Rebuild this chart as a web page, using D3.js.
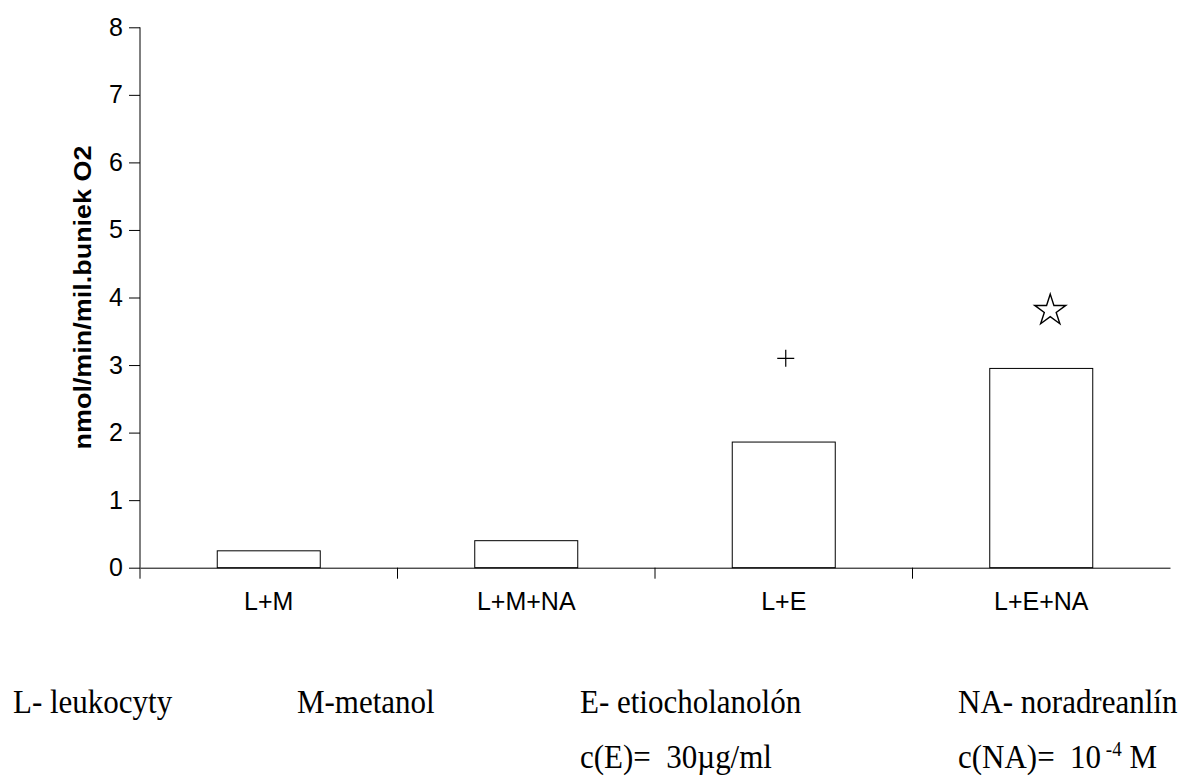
<!DOCTYPE html>
<html>
<head>
<meta charset="utf-8">
<script src="https://cdn.jsdelivr.net/npm/d3@7"></script>
<style>
  body { margin: 0; background: #fff; }
  svg { display: block; }
</style>
</head>
<body>
<svg width="1187" height="776"></svg>
<script>
// values
var categories = ["L+M", "L+M+NA", "L+E", "L+E+NA"];
var values = [0.25, 0.40, 1.86, 2.95];
var yTicks = [0, 1, 2, 3, 4, 5, 6, 7, 8];
var yTitle = "nmol/min/mil.buniek O2";
// significance markers: symbol and the level (in y units) where it sits
var markers = ["", "", "plus", "star"];
var markerLevels = [null, null, 3.1, 3.83];
var notes = ["L- leukocyty", "M-metanol", "E- etiocholanolón", "NA- noradreanlín"];
var concText = ["", "", "c(E)=  30µg/ml", "c(NA)=  10"];
var concSup = ["", "", "", "-4"];
var concTail = ["", "", "", " M"];

var plotLeft = 140, plotRight = 1170, plotTop = 27.3, plotBottom = 567.7;

var svg = d3.select("svg");

var x = d3.scaleBand()
  .domain(categories)
  .range([plotLeft, plotRight])
  .padding(0);

var y = d3.scaleLinear()
  .domain([0, 8])
  .range([plotBottom, plotTop]);

var bw = x.bandwidth();

// bars
svg.append("g")
  .selectAll("rect")
  .data(categories)
  .join("rect")
  .attr("x", (d) => x(d) + bw * 0.3)
  .attr("y", (d, i) => y(values[i]))
  .attr("width", bw * 0.4)
  .attr("height", (d, i) => y(0) - y(values[i]))
  .attr("fill", "#fff")
  .attr("stroke", "#000")
  .attr("stroke-width", 1);

// y axis
var yAxis = d3.axisLeft(y)
  .tickValues(yTicks)
  .tickSize(11)
  .tickPadding(6)
  .tickFormat(d3.format("d"));

var gy = svg.append("g")
  .attr("transform", `translate(${plotLeft}, 0)`)
  .call(yAxis);
gy.select(".domain").attr("d", `M0,${plotTop}V${plotBottom + 11}`).attr("stroke", "#000");
gy.selectAll(".tick line").attr("stroke", "#000");
gy.selectAll(".tick text")
  .attr("font-family", "'Liberation Sans', Arial, sans-serif")
  .attr("font-size", 25)
  .attr("fill", "#000");

// x axis: labels in band centres, tick marks on band edges
var xAxis = d3.axisBottom(x).tickSize(0).tickPadding(0);
var gx = svg.append("g")
  .attr("transform", `translate(0, ${plotBottom})`)
  .call(xAxis);
gx.select(".domain").attr("stroke", "#000");
gx.selectAll(".tick text")
  .attr("dy", null)
  .attr("y", 42.5)
  .attr("font-family", "'Liberation Sans', Arial, sans-serif")
  .attr("font-size", 25)
  .attr("fill", "#000");

svg.append("g")
  .selectAll("line")
  .data(categories.slice(1))
  .join("line")
  .attr("x1", (d) => x(d))
  .attr("x2", (d) => x(d))
  .attr("y1", y(0))
  .attr("y2", y(0) + 11)
  .attr("stroke", "#000");

// y axis title
svg.append("text")
  .attr("transform", `translate(91, ${(plotTop + plotBottom) / 2}) rotate(-90)`)
  .attr("text-anchor", "middle")
  .attr("font-family", "'Liberation Sans', Arial, sans-serif")
  .attr("font-weight", "bold")
  .attr("font-size", 24)
  .attr("textLength", 304)
  .attr("lengthAdjust", "spacingAndGlyphs")
  .text(yTitle);

// markers
var gm = svg.append("g");
categories.forEach((c, i) => {
  if (!markers[i]) return;
  var cx = x(c) + bw / 2;
  var cy = y(markerLevels[i]);
  if (markers[i] === "plus") {
    gm.append("path")
      .attr("d", `M${cx + 2 - 8.5},${cy}H${cx + 2 + 8.5}M${cx + 2},${cy - 8.5}V${cy + 8.5}`)
      .attr("stroke", "#000")
      .attr("stroke-width", 1.2)
      .attr("fill", "none");
  } else {
    gm.append("path")
      .attr("d", d3.symbol(d3.symbolStar, 300)())
      .attr("transform", `translate(${cx + 9}, ${cy + 1.5})`)
      .attr("fill", "#fff")
      .attr("stroke", "#000")
      .attr("stroke-width", 1.4)
      .attr("stroke-linejoin", "miter");
  }
});

// footnote lines under the chart (the scan is a bit taller than wide)
var noteX = [13, 297, 580, 958];
var gn = svg.append("g")
  .attr("font-family", "'Liberation Serif', 'Times New Roman', serif")
  .attr("font-size", 31)
  .attr("fill", "#000");

gn.selectAll("text.note")
  .data(notes)
  .join("text")
  .attr("class", "note")
  .attr("transform", (d, i) => `translate(${noteX[i]}, 713) scale(1, 1.08)`)
  .text((d) => d);

concText.forEach((t, i) => {
  if (!t) return;
  var tx = gn.append("text")
    .attr("transform", `translate(${noteX[i]}, 768) scale(1, 1.08)`)
    .attr("xml:space", "preserve")
    .style("white-space", "pre");
  tx.append("tspan").text(t);
  if (concSup[i]) {
    tx.append("tspan")
      .attr("font-size", 19)
      .attr("dy", -11)
      .text(" " + concSup[i]);
    tx.append("tspan")
      .attr("dy", 11)
      .text(concTail[i]);
  }
});
</script>
</body>
</html>
